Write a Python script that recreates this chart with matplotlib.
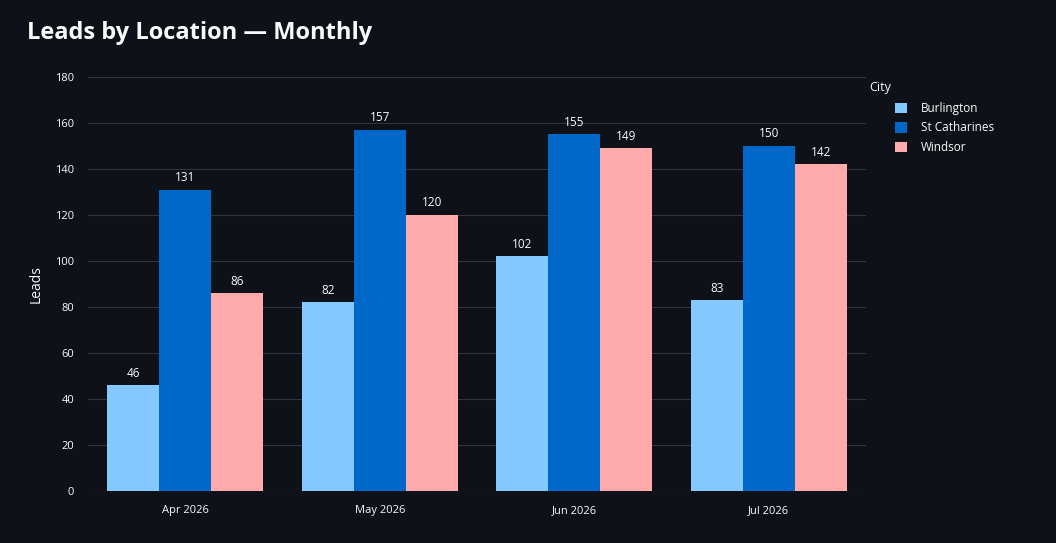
import matplotlib
matplotlib.use("Agg")
import matplotlib.pyplot as plt
import numpy as np

# data
months = ["Apr 2026", "May 2026", "Jun 2026", "Jul 2026"]
cities = ["Burlington", "St Catharines", "Windsor"]
burlington = [46, 82, 102, 83]
st_catharines = [131, 157, 155, 150]
windsor = [86, 120, 149, 142]
colors = ["#83c9ff", "#0068c9", "#ffabab"]

bg = "#0e1117"
grid_col = "#31333f"
text_col = "#fafafa"

plt.rcParams["font.family"] = ["Open Sans", "DejaVu Sans"]

fig = plt.figure(figsize=(10.56, 5.43), dpi=100, facecolor=bg)
ax = fig.add_axes([88 / 1056, 52 / 543, 778 / 1056, 414 / 543], facecolor=bg)

x = np.arange(len(months))
w = 0.267
series = [burlington, st_catharines, windsor]
for i, (name, vals) in enumerate(zip(cities, series)):
    bars = ax.bar(x + (i - 1) * w, vals, width=w, color=colors[i], label=name, zorder=3)
    for b, v in zip(bars, vals):
        ax.annotate(str(v), (b.get_x() + b.get_width() / 2, v), xytext=(0, 4),
                    textcoords="offset points", ha="center", va="bottom",
                    color=text_col, fontsize=8.5)

ax.set_xlim(-0.5, len(months) - 0.5)
ax.set_ylim(0, 180)
ax.set_yticks(range(0, 181, 20))
ax.set_xticks(x)
ax.set_xticklabels(months)
ax.tick_params(axis="both", length=0, colors=text_col, labelsize=8)
ax.tick_params(axis="y", pad=10)
ax.tick_params(axis="x", pad=10)
ax.grid(axis="y", color=grid_col, linewidth=0.8, zorder=0)
for s in ax.spines.values():
    s.set_visible(False)

ax.set_ylabel("Leads", color=text_col, fontsize=10, labelpad=8)

fig.text(27 / 1056, 1 - 33 / 543, "Leads by Location \u2014 Monthly", color=text_col,
         fontsize=17, fontweight="bold", va="center", ha="left")

# legend: title as separate text so the entries can be indented like the original
fig.text(869 / 1056, 1 - 88 / 543, "City", color=text_col, fontsize=9,
         va="center", ha="left")
leg = fig.legend(loc="upper left", bbox_to_anchor=(895 / 1056, 1 - 102 / 543),
                 frameon=False, fontsize=8.5, handlelength=1.0, handleheight=1.0,
                 handletextpad=1.2, labelspacing=0.55, borderpad=0, borderaxespad=0)
for t in leg.get_texts():
    t.set_color(text_col)

fig.savefig("out.png", dpi=100, facecolor=bg)
